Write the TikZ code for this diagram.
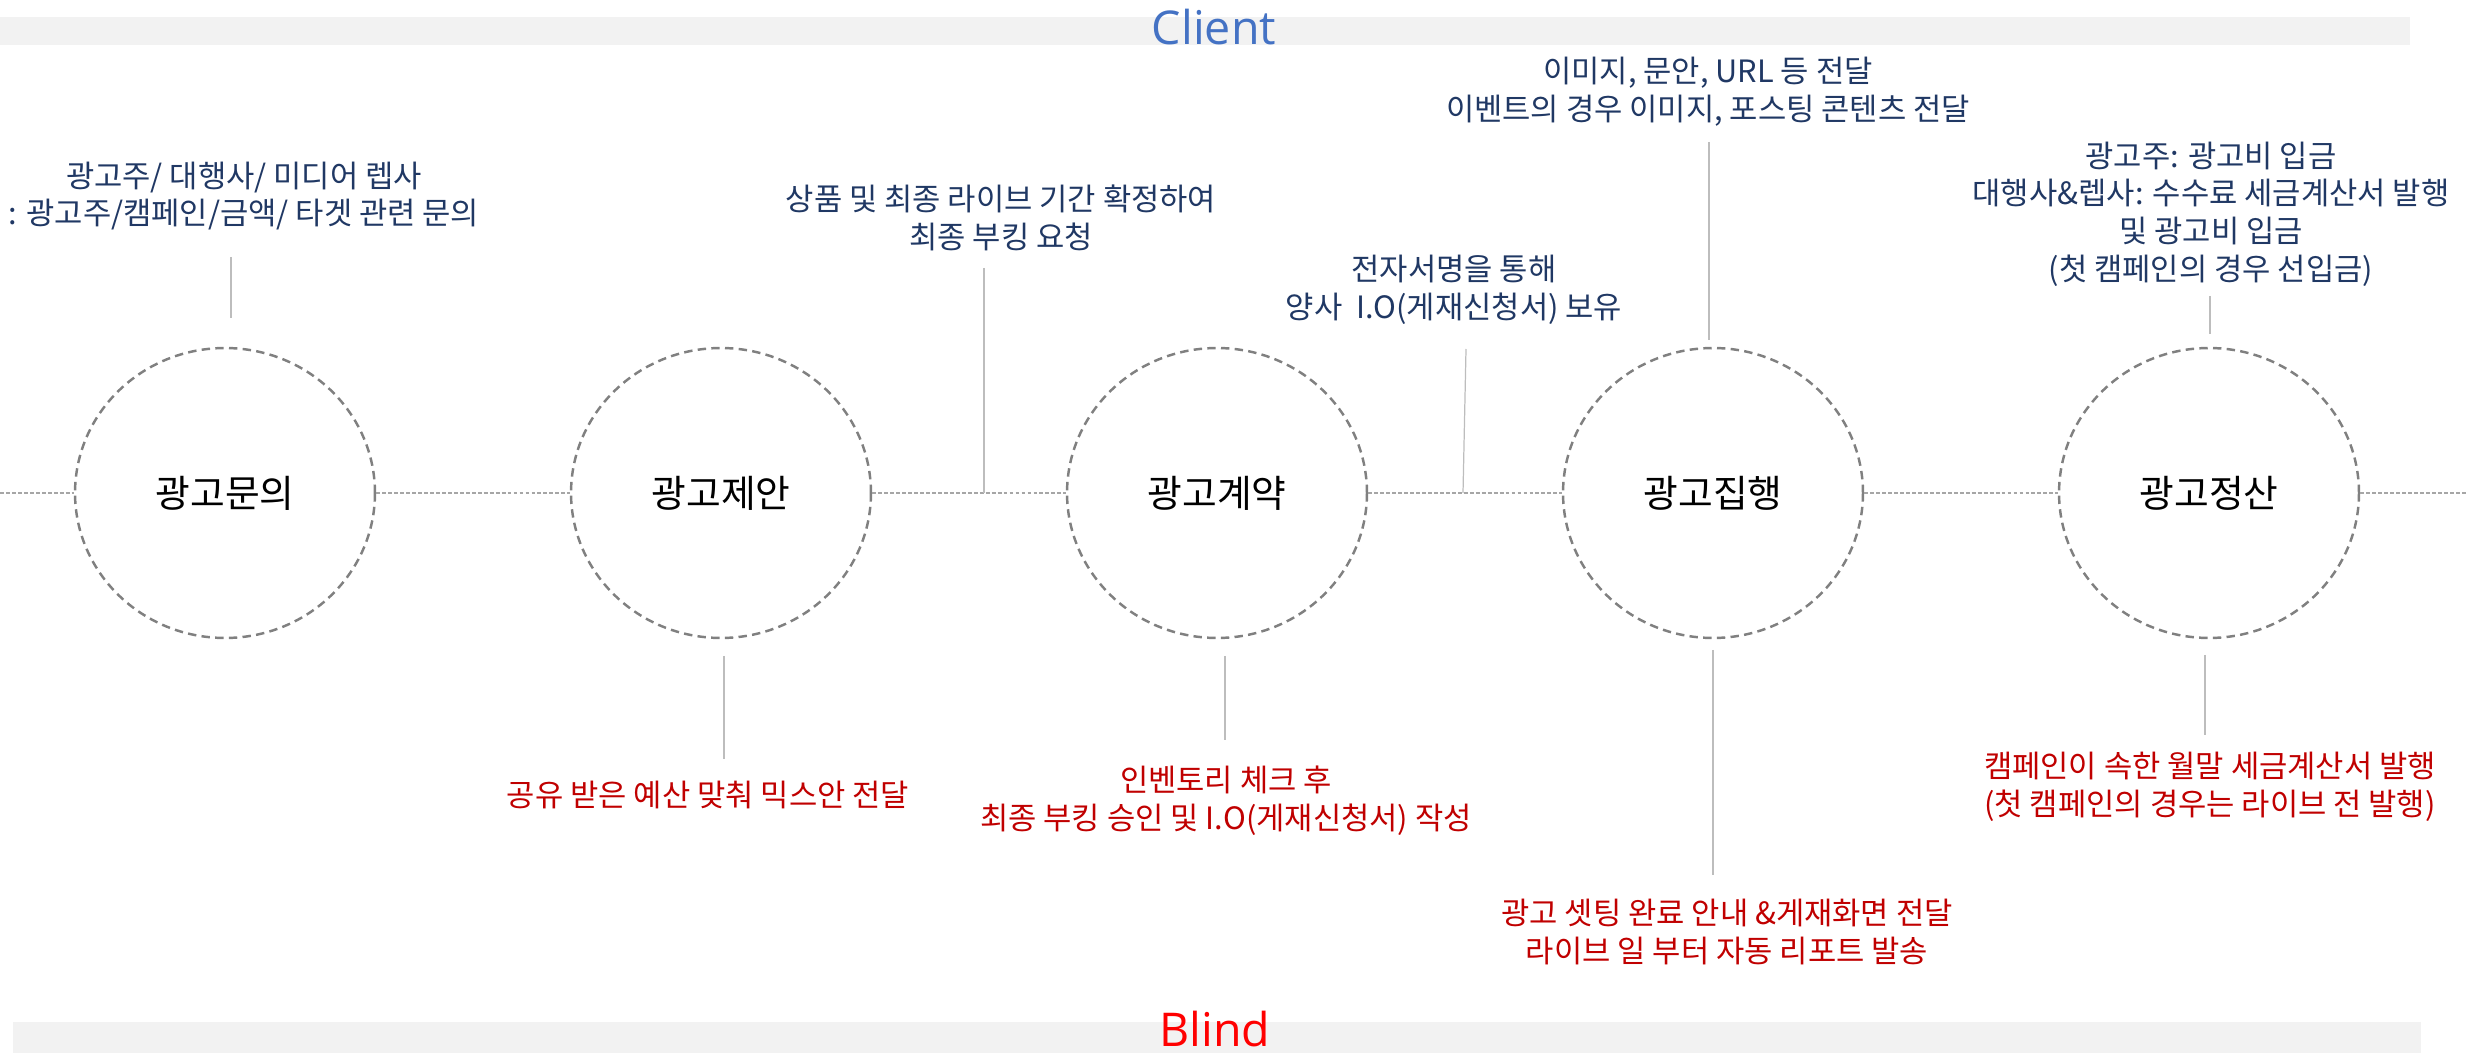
\documentclass[tikz,border=0pt]{standalone}
\usepackage{fontspec}
\setmainfont{Noto Sans CJK KR}
\newfontfamily\headfont{Open Sans}
\usetikzlibrary{shapes.geometric}
\definecolor{navy}{HTML}{203864}
\definecolor{darkred}{HTML}{C00000}
\definecolor{clientblue}{HTML}{4472C4}
\definecolor{barfill}{HTML}{F2F2F2}
\definecolor{ringgray}{HTML}{808080}
\definecolor{leadgray}{HTML}{BDBDBD}
\definecolor{axisgray}{HTML}{A6A6A6}
\newcommand{\stage}[3]{%
 \node[stage] ({#1}) at (#2) {#3};%
}
\newcommand{\clientnote}[3]{%
 \node[clientnote] ({#1}) at (#2) {#3};%
}
\newcommand{\blindnote}[3]{%
 \node[blindnote] ({#1}) at (#2) {#3};%
}
\tikzset{
 stage/.style={ellipse,draw=ringgray,line width=1.4pt,dash pattern=on 4.8pt off 3pt,
  minimum width=6cm,minimum height=5.8cm,inner sep=0pt,font=\fontsize{21.5}{25}\selectfont},
 clientnote/.style={text=navy,align=center,inner sep=0pt,font=\fontsize{17.5}{21.5}\selectfont},
 blindnote/.style={clientnote,text=darkred},
 lead/.style={draw=leadgray,line width=0.7pt},
 axis/.style={draw=axisgray,line width=0.6pt,dash pattern=on 2.2pt off 1.2pt},
 bar/.style={fill=barfill,draw=none},
}

\begin{document}
\begin{tikzpicture}[x=0.02cm,y=-0.02cm]
  \useasboundingbox (0,0) rectangle (2468,1053);
  \fill[bar] (0,17) rectangle (2410,45);
  \fill[bar] (13,1022) rectangle (2421,1053);
  \node[anchor=base,text=clientblue,inner sep=0pt,font=\headfont\fontsize{26.5}{30}\selectfont] (client) at (1214,45) {Client};
  \node[anchor=base,text=red,inner sep=0pt,font=\headfont\fontsize{26.5}{30}\selectfont] (blind) at (1215,1046) {Blind};

  \stage{inquiry}{225,493}{광고문의};
  \stage{proposal}{721,493}{광고제안};
  \stage{contract}{1217,493}{광고계약};
  \stage{execution}{1713,493}{광고집행};
  \stage{settlement}{2209,493}{광고정산};
  \coordinate (west) at (0,493);
  \coordinate (east) at (2468,493);
  \draw[axis] (west) -- (inquiry);
  \draw[axis] (inquiry) -- (proposal);
  \draw[axis] (proposal) -- (contract);
  \draw[axis] (contract) -- (execution);
  \draw[axis] (execution) -- (settlement);
  \draw[axis] (settlement) -- (east);

  \clientnote{n1}{244,196}{광고주/ 대행사/ 미디어 렙사\\: 광고주/캠페인/금액/ 타겟 관련 문의};
  \clientnote{n2}{1001,218}{상품 및 최종 라이브 기간 확정하여\\최종 부킹 요청};
  \clientnote{n3}{1454,290}{전자서명을 통해\\양사~ I.O(게재신청서) 보유};
  \clientnote{n4}{1708,92}{이미지, 문안, URL 등 전달\\이벤트의 경우 이미지, 포스팅 콘텐츠 전달};
  \clientnote{n5}{2211,214}{광고주: 광고비 입금\\대행사\&렙사: 수수료 세금계산서 발행\\및 광고비 입금\\(첫 캠페인의 경우 선입금)};

  \blindnote{b1}{708,795}{공유 받은 예산 맞춰 믹스안 전달};
  \blindnote{b2}{1226,801}{인벤토리 체크 후\\최종 부킹 승인 및 I.O(게재신청서) 작성};
  \blindnote{b3}{1727,932}{광고 셋팅 완료 안내 \&게재화면 전달\\라이브 일 부터 자동 리포트 발송};
  \blindnote{b4}{2210,787}{캠페인이 속한 월말 세금계산서 발행\\(첫 캠페인의 경우는 라이브 전 발행)};

  \coordinate (n1a) at (231,257);  \coordinate (n1b) at (231,318);
  \coordinate (n2a) at (984,268);  \coordinate (n2b) at (984,493);
  \coordinate (n3a) at (1466,349); \coordinate (n3b) at (1463,493);
  \coordinate (n4a) at (1709,142); \coordinate (n4b) at (1709,340);
  \coordinate (n5a) at (2210,296); \coordinate (n5b) at (2210,334);
  \coordinate (b1a) at (724,656);  \coordinate (b1b) at (724,759);
  \coordinate (b2a) at (1225,656); \coordinate (b2b) at (1225,740);
  \coordinate (b3a) at (1713,650); \coordinate (b3b) at (1713,875);
  \coordinate (b4a) at (2205,655); \coordinate (b4b) at (2205,735);
  \draw[lead] (n1a) -- (n1b);
  \draw[lead] (n2a) -- (n2b);
  \draw[lead] (n3a) -- (n3b);
  \draw[lead] (n4a) -- (n4b);
  \draw[lead] (n5a) -- (n5b);
  \draw[lead] (b1a) -- (b1b);
  \draw[lead] (b2a) -- (b2b);
  \draw[lead] (b3a) -- (b3b);
  \draw[lead] (b4a) -- (b4b);
\end{tikzpicture}
\end{document}
